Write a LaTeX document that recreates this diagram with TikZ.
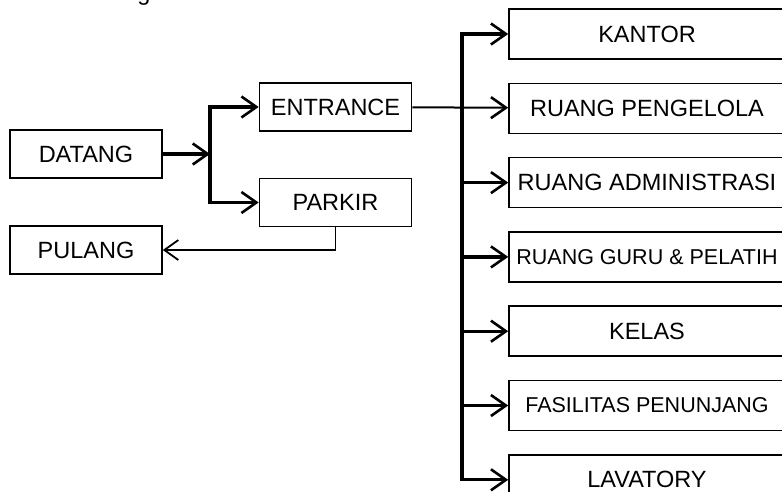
\documentclass[tikz,border=0pt]{standalone}
\usepackage{fontspec}
\setmainfont{Liberation Sans}
\usepackage{tikz}
\usetikzlibrary{arrows.meta, positioning}

\begin{document}
\begin{tikzpicture}[
      x=1pt, y=-1pt,
      box/.style={rectangle, draw, line width=1.6pt, minimum width=152pt, minimum height=48pt, inner sep=0pt, font=\fontsize{23.5}{27}\selectfont, text centered},
      room/.style={box, minimum width=276pt, minimum height=50pt},
      small/.style={font=\fontsize{21.5}{25}\selectfont},
      arrow/.style={-{Straight Barb[length=15pt, width=21pt, line width=2.6pt]}, line width=3.2pt},
      thinarrow/.style={-{Straight Barb[length=14pt, width=20pt, line width=1.8pt]}, line width=1.7pt}
  ]
      \useasboundingbox (0,0) rectangle (782,491);
      \clip (0,0) rectangle (782,491);

      % cut caption
      \node[anchor=base, font=\fontsize{23.5}{27}\selectfont] (cap) at (144,0) {g};

      % Left nodes
      \node[box] (D) at (86,154) {DATANG};
      \node[box] (U) at (86,250) {PULANG};
      \node[box] (E) at (335.5,107) {ENTRANCE};
      \node[box] (P) at (335.5,202.5) {PARKIR};

      % Rooms
      \node[room] (K) at (647,34) {KANTOR};
      \node[room, below=22.7pt of K] (RP) {RUANG PENGELOLA};
      \node[room, below=22.7pt of RP] (RA) {RUANG ADMINISTRASI};
      \node[room, small, below=22.7pt of RA] (RG) {RUANG GURU \& PELATIH};
      \node[room, below=22.7pt of RG] (KL) {KELAS};
      \node[room, small, below=22.7pt of KL] (FP) {FASILITAS PENUNJANG};
      \node[room, below=22.7pt of FP] (LV) {LAVATORY};

      % Junctions
      \coordinate (jn) at (210,154);
      \coordinate (bus) at (462,251);

      % Arrows
      \draw[arrow] (D) -- (jn);
      \draw[arrow] (jn) |- (E);
      \draw[arrow] (jn) |- (P);
      \draw[thinarrow] (P.south) |- (U.east);
      \draw[arrow, line width=2pt] (E) -- (RP);
      \draw[arrow] (bus) |- (K);
      \draw[arrow] (bus) |- (LV);
      \foreach \n in {RA, RG, KL, FP}
          \draw[arrow] (bus |- \n) -- (\n);
  \end{tikzpicture}
\end{document}
